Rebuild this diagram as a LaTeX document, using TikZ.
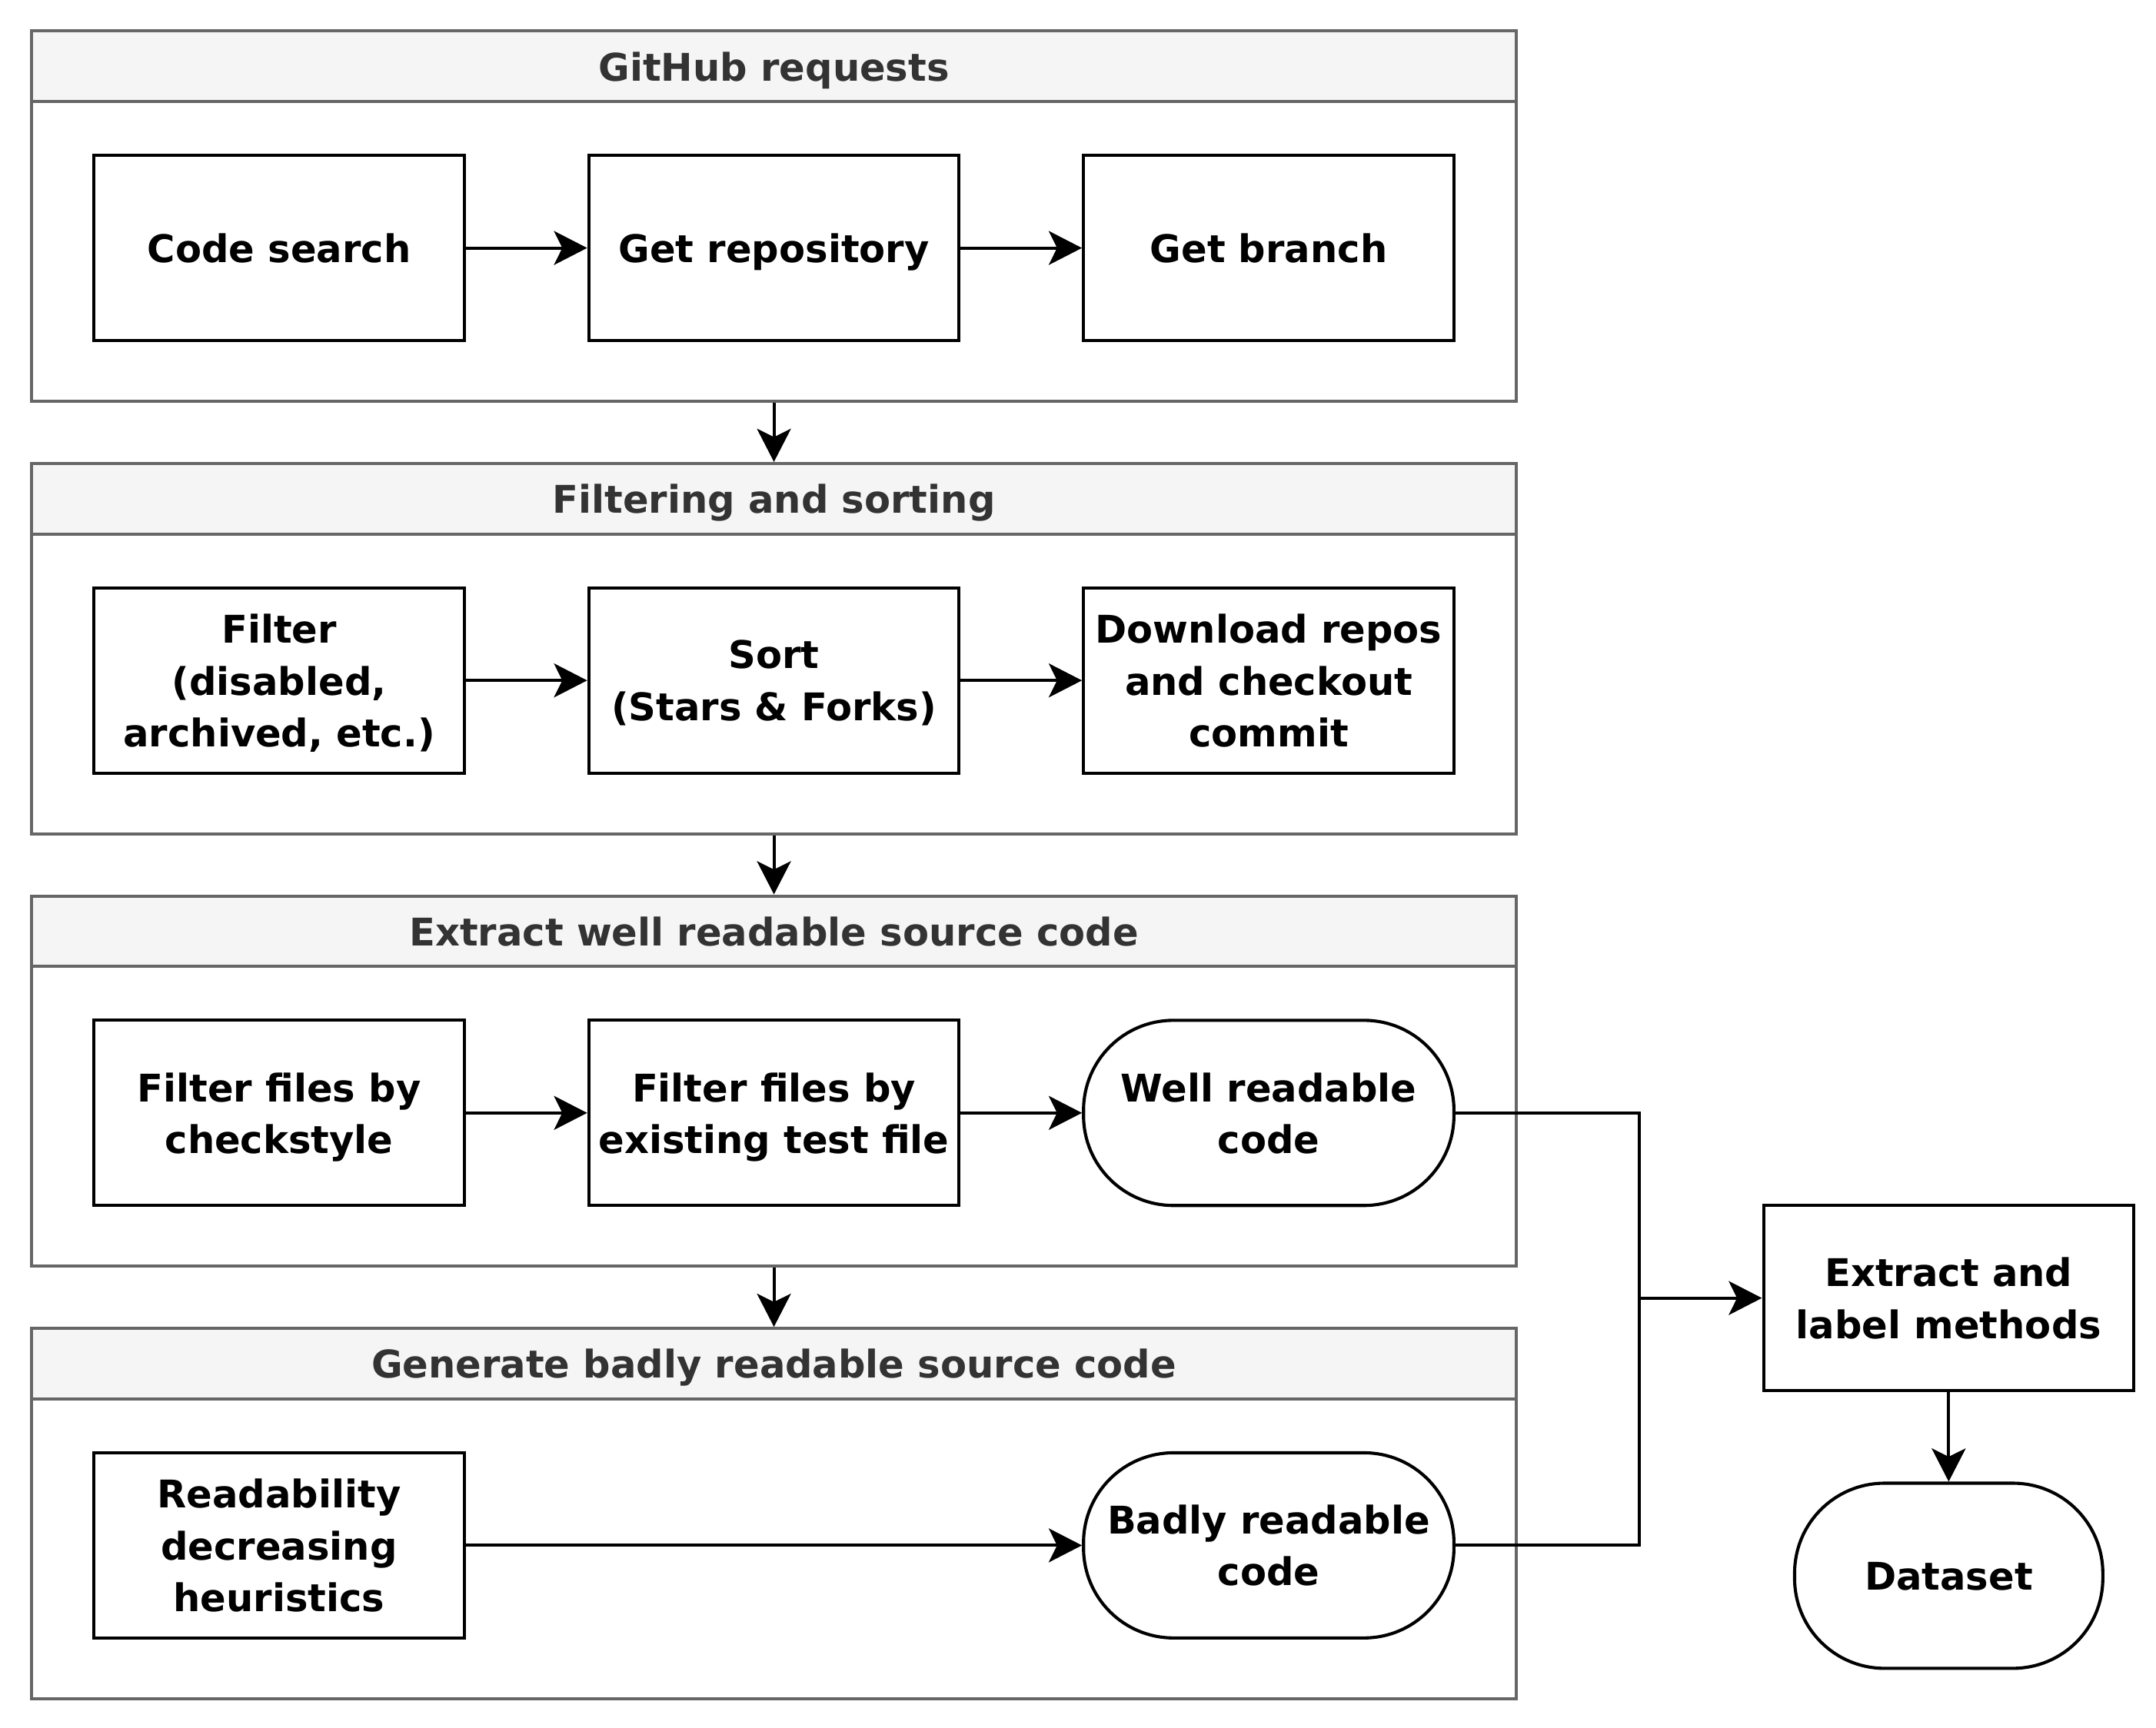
\documentclass[tikz,border=0pt]{standalone}
\usepackage{fontspec}
\setmainfont{DejaVu Sans}
\usetikzlibrary{arrows.meta}

\begin{document}
\begin{tikzpicture}[
		font=\fontsize{15.7}{21.3}\selectfont\bfseries,
		line width=1.3pt,
		group/.style={draw=grayline, fill=white, minimum width=21.48cm, minimum height=5.36cm, inner sep=0pt},
		grouphead/.style={draw=grayline, fill=grayfill, text=graytext, text depth=0pt, minimum width=21.48cm, minimum height=1.02cm, inner sep=0pt, anchor=north},
		stepbox/.style={draw, align=center, text depth=0pt, minimum width=5.36cm, minimum height=2.68cm, inner sep=0pt},
		endbox/.style={stepbox, rounded corners=1.3cm},
		arr/.style={-{Stealth[length=0.48cm, width=0.49cm, inset=0.12cm]}},
	]

		\colorlet{grayline}{black!60}
		\colorlet{grayfill}{black!4}
		\colorlet{graytext}{black!80}

		\useasboundingbox (0,0) rectangle (31.2,25.01);
		%\draw[step=1cm,gray,very thin] (0,0) grid (31,25);

		% GitHub requests
		\node[group] (grpA) at (11.2,21.88) {};
		\node[grouphead] (headA) at (grpA.north) {GitHub requests};
		\node[stepbox] (search) at (4.04,21.42) {Code search};
		\node[stepbox] (repo) at (11.2,21.42) {Get repository};
		\node[stepbox] (branch) at (18.36,21.42) {Get branch};

		% Filtering and sorting
		\node[group] (grpB) at (11.2,15.62) {};
		\node[grouphead] (headB) at (grpB.north) {Filtering and sorting};
		\node[stepbox] (filter) at (4.04,15.16) {Filter\\(disabled,\\archived, etc.)};
		\node[stepbox] (sort) at (11.2,15.16) {Sort\\(Stars \& Forks)};
		\node[stepbox] (download) at (18.36,15.16) {Download repos\\and checkout\\commit};

		% Extract well readable source code
		\node[group] (grpC) at (11.2,9.36) {};
		\node[grouphead] (headC) at (grpC.north) {Extract well readable source code};
		\node[stepbox] (style) at (4.04,8.90) {Filter files by\\checkstyle};
		\node[stepbox] (tests) at (11.2,8.90) {Filter files by\\existing test file};
		\node[endbox] (well) at (18.36,8.90) {Well readable\\code};

		% Generate badly readable source code
		\node[group] (grpD) at (11.2,3.10) {};
		\node[grouphead] (headD) at (grpD.north) {Generate badly readable source code};
		\node[stepbox] (heur) at (4.04,2.64) {Readability\\decreasing\\heuristics};
		\node[endbox] (bad) at (18.36,2.64) {Badly readable\\code};

		% Output
		\node[stepbox] (extract) at (28.2,6.22) {Extract and\\label methods};
		\node[endbox, minimum width=4.46cm] (dataset) at (28.2,2.2) {Dataset};
		\coordinate (join) at (23.72,6.22);

		\draw[arr] (search) -- (repo);
		\draw[arr] (repo) -- (branch);
		\draw[arr] (filter) -- (sort);
		\draw[arr] (sort) -- (download);
		\draw[arr] (style) -- (tests);
		\draw[arr] (tests) -- (well);
		\draw[arr] (heur) -- (bad);

		\draw[arr] (grpA.south) -- (headB.north);
		\draw[arr] (grpB.south) -- (headC.north);
		\draw[arr] (grpC.south) -- (headD.north);

		\draw (well.east) -| (join);
		\draw (bad.east) -| (join);
		\draw[arr] (join) -- (extract);
		\draw[arr] (extract) -- (dataset);

	\end{tikzpicture}
\end{document}
